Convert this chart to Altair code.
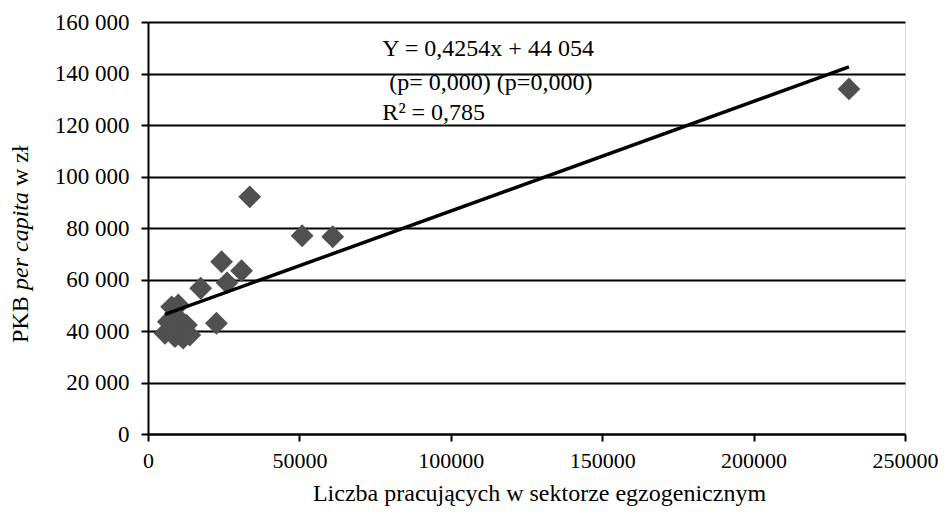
import altair as alt
import pandas as pd

# Data
workers = [231500, 33600, 50900, 61000, 24300, 30900, 26100, 17400, 22600,
           7800, 10000, 5600, 8900, 11600, 13800, 12700, 10500, 6700]
gdp = [134000, 92100, 77000, 76600, 66900, 63400, 58700, 56600, 43000,
       49400, 50100, 39100, 37800, 37200, 38400, 42300, 44300, 43600]

slope = 0.4254
intercept = 44054

x_ticks = [0, 50000, 100000, 150000, 200000, 250000]
y_ticks = [0, 20000, 40000, 60000, 80000, 100000, 120000, 140000, 160000]

eq_lines = ["Y = 0,4254x + 44 054", "(p= 0,000) (p=0,000)", "R² = 0,785"]
eq_x = [77400, 79700, 77400]
eq_y = [149500, 136300, 124700]

FONT = "Liberation Serif"

pts = pd.DataFrame({"x": workers, "y": gdp})
xmin, xmax = min(workers), max(workers)
fit = pd.DataFrame({"x": [xmin, xmax],
                    "y": [slope * xmin + intercept, slope * xmax + intercept]})
ann = pd.DataFrame({"x": eq_x, "y": eq_y, "t": eq_lines})

xscale = alt.Scale(domain=[0, 250000], nice=False, zero=True)
yscale = alt.Scale(domain=[0, 160000], nice=False)

W = 757
xaxis = alt.Axis(values=x_ticks, format="d", grid=False, tickSize=7,
                 tickColor="black", tickWidth=2, domainColor="black", domainWidth=2,
                 labelFontSize=22, labelColor="black", labelFont=FONT, labelPadding=9,
                 labelFlush=False,
                 title="Liczba pracujących w sektorze egzogenicznym",
                 titleFont=FONT, titleFontSize=24, titleFontWeight="normal",
                 titleColor="black", titlePadding=10, titleX=391, titleAlign="center")
yaxis = alt.Axis(values=y_ticks, grid=True, gridColor="black", gridWidth=2,
                 tickSize=7, tickColor="black", tickWidth=2,
                 domainColor="black", domainWidth=2,
                 labelExpr="datum.value == 0 ? '0' : format(floor(datum.value/1000), 'd') + ' 000'",
                 labelFontSize=23, labelColor="black", labelFont=FONT, labelPadding=12,
                 labelFlush=False, title=None)

points = alt.Chart(pts).mark_point(shape="diamond", filled=True, size=520,
                                   color="#505050", opacity=1).encode(
    x=alt.X("x:Q", scale=xscale, axis=xaxis),
    y=alt.Y("y:Q", scale=yscale, axis=yaxis),
)

line = alt.Chart(fit).mark_line(color="black", strokeWidth=3.5).encode(
    x=alt.X("x:Q", scale=xscale),
    y=alt.Y("y:Q", scale=yscale),
)

eq = alt.Chart(ann).mark_text(align="left", baseline="middle", font=FONT,
                              fontSize=24, color="black").encode(
    x=alt.X("x:Q", scale=xscale),
    y=alt.Y("y:Q", scale=yscale),
    text="t:N",
)

one = pd.DataFrame({"a": [0]})
ytitle_parts = [("PKB", "normal", 321), ("per capita", "italic", 268), ("w zł", "normal", 164)]
ytitles = []
for txt, style, ypos in ytitle_parts:
    ytitles.append(
        alt.Chart(one).mark_text(align="left", baseline="middle", angle=270,
                                 font=FONT, fontSize=24, fontStyle=style,
                                 color="black", text=txt).encode(
            x=alt.value(-127), y=alt.value(ypos)
        )
    )

chart = alt.layer(points, line, eq, *ytitles).properties(
    width=W, height=412,
    padding={"left": 140, "top": 14, "right": 947 - 16 - 140 - W, "bottom": 75},
    autosize=alt.AutoSizeParams(type="none"),
).configure_view(stroke=None).configure(font=FONT)

chart.save("out.html", embed_options={"renderer": "svg", "actions": False})
